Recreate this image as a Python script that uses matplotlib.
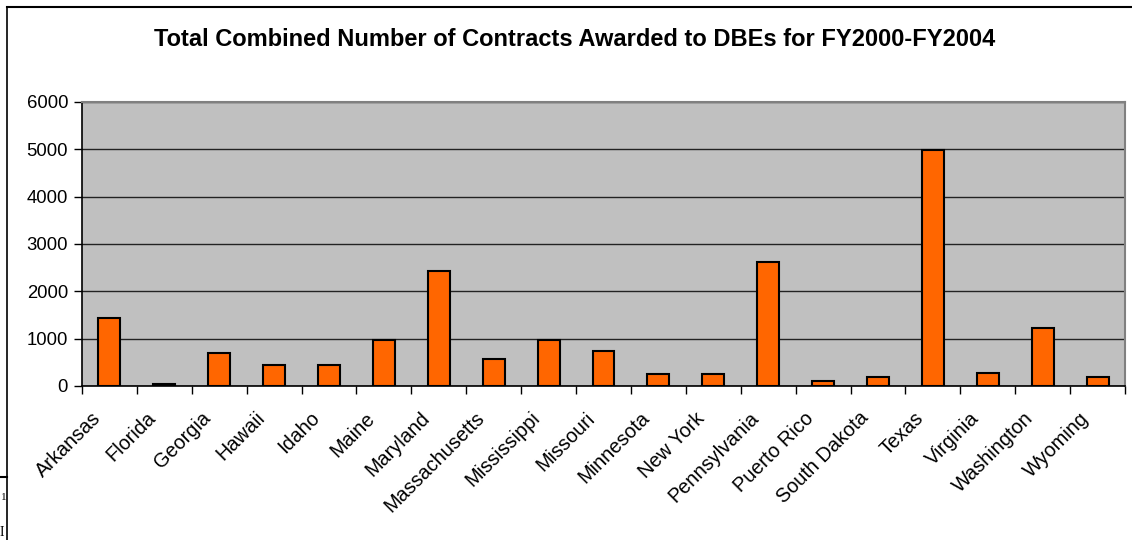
import matplotlib.pyplot as plt
import matplotlib.transforms as mtransforms
import numpy as np

states = ["Arkansas", "Florida", "Georgia", "Hawaii", "Idaho", "Maine", "Maryland",
          "Massachusetts", "Mississippi", "Missouri", "Minnesota", "New York",
          "Pennsylvania", "Puerto Rico", "South Dakota", "Texas", "Virginia",
          "Washington", "Wyoming"]
contracts = [1430, 40, 700, 450, 450, 975, 2440, 560, 970, 730, 245, 245,
             2620, 100, 180, 4990, 280, 1220, 180]
yticks = [0, 1000, 2000, 3000, 4000, 5000, 6000]

plt.rcParams['font.family'] = ['Liberation Sans', 'DejaVu Sans']

fig = plt.figure(figsize=(11.32, 5.4), dpi=100)
ax = fig.add_axes([82 / 1132, 1 - 386 / 540, (1125 - 82) / 1132, (386 - 102) / 540])

x = np.arange(len(states))
ax.set_facecolor('#C0C0C0')
ax.bar(x, contracts, width=0.4, color='#FF6600', edgecolor='black', linewidth=1.5, zorder=3)

ax.set_xlim(-0.5, len(states) - 0.5)
ax.set_ylim(0, 6000)
ax.set_yticks(yticks)
ax.set_yticklabels([str(v) for v in yticks], fontsize=13.3)
ax.yaxis.grid(True, color='#222222', linewidth=1, zorder=1)
ax.set_axisbelow(True)

# category boundary ticks, labels at centres
ax.set_xticks(np.arange(len(states) + 1) - 0.5)
ax.set_xticklabels([])
ax.set_xticks(x, minor=True)
ax.set_xticklabels(states, minor=True, rotation=45, ha='right', va='center',
                   rotation_mode='anchor', fontsize=14.3)
ax.tick_params(axis='x', which='major', direction='out', length=6, width=1)
ax.tick_params(axis='x', which='minor', length=0, pad=21)
ax.tick_params(axis='y', direction='out', length=6, width=1, pad=4)

# nudge labels left a little, like Excel
shift = mtransforms.ScaledTranslation(-12 / 100, 0, fig.dpi_scale_trans)
for lab in ax.get_xticklabels(minor=True):
    lab.set_transform(lab.get_transform() + shift)

for s in ['left', 'bottom']:
    ax.spines[s].set_color('black')
    ax.spines[s].set_linewidth(1.2)
for s in ['top', 'right']:
    ax.spines[s].set_color('#808080')
    ax.spines[s].set_linewidth(1.5)

fig.text(575 / 1132, 1 - 40 / 540, "Total Combined Number of Contracts Awarded to DBEs for FY2000-FY2004",
         ha='center', va='center', fontsize=17, fontweight='bold')

# chart border and page bits
fig.add_artist(plt.Line2D([7 / 1132, 7 / 1132], [0, 1 - 7 / 540], color='black', linewidth=1.2,
                          transform=fig.transFigure))
fig.add_artist(plt.Line2D([7 / 1132, 1], [1 - 7 / 540, 1 - 7 / 540], color='black', linewidth=1.5,
                          transform=fig.transFigure))
fig.add_artist(plt.Line2D([0, 7 / 1132], [1 - 477 / 540, 1 - 477 / 540], color='black', linewidth=1.5,
                          transform=fig.transFigure))
fig.text(1 / 1132, 1 - 498 / 540, "1", fontsize=8, family='Liberation Serif', va='center')
fig.text(0 / 1132, 1 - 533 / 540, "I", fontsize=10, family='Liberation Serif', va='center')

fig.savefig('out.png', dpi=100)
